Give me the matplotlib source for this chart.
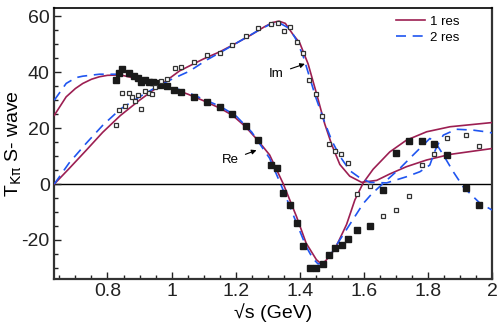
import matplotlib
matplotlib.use("Agg")
import matplotlib.pyplot as plt

# measured points, real part (filled squares)
re_x = [0.826, 0.835, 0.846, 0.866, 0.884, 0.895, 0.906, 0.918, 0.929, 0.941,
        0.952, 0.965, 0.987, 1.009, 1.030, 1.070, 1.110, 1.150, 1.190, 1.231,
        1.271, 1.309, 1.330, 1.349, 1.371, 1.390, 1.410, 1.431, 1.450, 1.471,
        1.492, 1.510, 1.531, 1.552, 1.580, 1.620, 1.660, 1.700, 1.741, 1.780,
        1.820, 1.860, 1.920, 1.959]
re_y = [37.2, 39.8, 41.0, 39.9, 38.7, 38.0, 36.5, 37.4, 36.6, 36.4,
        36.2, 35.6, 35.1, 33.8, 33.0, 31.2, 29.3, 27.6, 24.9, 20.8,
        15.8, 6.9, 5.8, -3.3, -7.6, -13.8, -22.1, -30.0, -30.2, -28.8,
        -25.5, -22.9, -21.8, -19.6, -16.5, -15.0, -2.0, 11.0, 15.5, 15.5,
        14.4, 10.5, -1.6, -7.6]

# measured points, imaginary part (open squares)
im_x = [0.826, 0.835, 0.846, 0.856, 0.866, 0.876, 0.886, 0.896, 0.906, 0.918,
        0.929, 0.938, 0.948, 0.966, 0.985, 1.010, 1.030, 1.070, 1.110, 1.150,
        1.190, 1.231, 1.271, 1.310, 1.331, 1.351, 1.371, 1.390, 1.410, 1.430,
        1.450, 1.470, 1.490, 1.510, 1.530, 1.551, 1.580, 1.620, 1.660, 1.700,
        1.741, 1.780, 1.820, 1.858, 1.920, 1.959]
im_y = [21.0, 26.4, 32.7, 27.9, 32.6, 31.0, 29.6, 31.9, 27.0, 33.3,
        32.4, 32.3, 34.6, 36.8, 37.5, 41.7, 41.8, 43.6, 46.1, 46.9,
        49.9, 53.0, 56.0, 57.2, 57.8, 54.9, 56.1, 50.8, 47.0, 37.4,
        32.1, 24.2, 14.5, 11.8, 10.9, 7.4, -3.6, -0.7, -11.5, -9.3,
        -4.4, 6.8, 10.6, 16.6, 17.4, 13.7]

# fit with 1 resonance
res1_re_x = [0.634, 0.671, 0.700, 0.723, 0.750, 0.775, 0.800, 0.827, 0.850, 0.900,
             0.950, 1.000, 1.050, 1.100, 1.150, 1.190, 1.230, 1.270, 1.306, 1.348,
             1.390, 1.420, 1.452, 1.465, 1.480, 1.500, 1.515, 1.546, 1.572, 1.598,
             1.629, 1.650, 1.681, 1.733, 1.796, 1.869, 2.000]
res1_re_y = [24.6, 31.2, 34.2, 36.0, 37.5, 38.4, 38.9, 39.0, 38.8, 37.5,
             36.0, 34.2, 32.2, 29.8, 27.2, 24.6, 20.6, 15.5, 10.4, 0.2,
             -11.7, -21.2, -27.1, -28.4, -27.6, -24.8, -22.0, -14.5, -5.7, 0.4,
             5.3, 7.8, 11.5, 15.7, 18.7, 20.5, 22.0]
res1_im_x = [0.634, 0.680, 0.733, 0.785, 0.840, 0.900, 0.960, 1.025, 1.100, 1.150,
             1.200, 1.250, 1.290, 1.315, 1.335, 1.355, 1.379, 1.400, 1.426, 1.452,
             1.478, 1.500, 1.525, 1.556, 1.593, 1.640, 1.681, 1.733, 1.796, 1.869,
             2.000]
res1_im_y = [0.0, 5.5, 12.0, 18.5, 24.5, 30.0, 35.0, 40.5, 44.8, 47.3,
             50.3, 53.5, 56.3, 57.8, 58.3, 57.5, 53.5, 50.5, 43.0, 32.5,
             21.5, 14.0, 7.0, 2.8, 0.6, 1.3, 3.6, 6.2, 8.6, 10.6,
             12.7]

# fit with 2 resonances
res2_re_x = [0.634, 0.671, 0.702, 0.723, 0.775, 0.827, 0.880, 0.950, 1.000, 1.050,
             1.100, 1.150, 1.200, 1.250, 1.306, 1.348, 1.390, 1.420, 1.440, 1.457,
             1.475, 1.490, 1.515, 1.556, 1.598, 1.624, 1.660, 1.7125, 1.754, 1.790,
             1.806, 1.822, 1.848, 1.879, 1.910, 1.9625, 2.000]
res2_re_y = [30.0, 36.0, 38.1, 38.6, 39.3, 39.3, 38.5, 36.5, 34.7, 32.8,
             30.3, 27.9, 24.5, 18.6, 9.2, -2.1, -14.0, -22.4, -26.5, -28.6,
             -28.3, -26.5, -21.8, -14.5, -7.0, -3.6, 0.2, 5.6, 10.4, 14.5,
             16.3, 15.1, 10.4, 4.4, -1.0, -6.9, -9.3]
res2_im_x = [0.634, 0.680, 0.733, 0.785, 0.840, 0.900, 0.960, 1.004, 1.056, 1.108,
             1.160, 1.2125, 1.265, 1.306, 1.3375, 1.369, 1.390, 1.410, 1.430, 1.450,
             1.478, 1.500, 1.525, 1.556, 1.5875, 1.619, 1.671, 1.733, 1.775, 1.806,
             1.817, 1.827, 1.848, 1.889, 1.940, 1.980, 2.000]
res2_im_y = [0.0, 7.5, 14.5, 21.0, 26.8, 31.2, 35.2, 37.7, 40.4, 44.3,
             47.6, 51.1, 54.6, 57.1, 57.6, 55.6, 51.4, 46.0, 38.5, 31.0,
             22.0, 15.5, 10.0, 4.8, 2.2, 0.6, 0.4, 2.6, 4.4, 6.8,
             10.4, 13.3, 17.5, 19.6, 19.3, 18.7, 18.3]

MAROON = "#9c1f52"
BLUE = "#1f55f0"


def main():
    plt.rcParams["font.family"] = ["Liberation Sans", "DejaVu Sans"]
    plt.rcParams["axes.unicode_minus"] = False

    fig = plt.figure(figsize=(4.98, 3.27), dpi=100)
    ax = fig.add_axes([0.1084, 0.1468, 0.8796, 0.8287])

    ax.axhline(0, color="black", lw=1.0, zorder=1)

    ax.plot(res1_re_x, res1_re_y, color=MAROON, lw=1.2, label="1 res", zorder=3)
    ax.plot(res1_im_x, res1_im_y, color=MAROON, lw=1.2, zorder=3)
    ax.plot(res2_re_x, res2_re_y, color=BLUE, lw=1.2, dashes=(6, 4),
            label="2 res", zorder=3)
    ax.plot(res2_im_x, res2_im_y, color=BLUE, lw=1.2, dashes=(6, 4), zorder=3)

    ax.plot(re_x, re_y, ls="none", marker="s", ms=3.7, color="#1a1a1a",
            mec="#1a1a1a", zorder=4)
    ax.plot(im_x, im_y, ls="none", marker="s", ms=3.4, mfc="white",
            mec="#333333", mew=0.9, zorder=4)

    ax.annotate("Im", xy=(1.416, 43.0), xytext=(1.327, 39.5),
                ha="center", va="center", fontsize=9.5,
                arrowprops=dict(arrowstyle="-|>", color="black", lw=0.8,
                                mutation_scale=7, shrinkA=3, shrinkB=0))
    ax.annotate("Re", xy=(1.265, 12.1), xytext=(1.183, 8.6),
                ha="center", va="center", fontsize=9.5,
                arrowprops=dict(arrowstyle="-|>", color="black", lw=0.8,
                                mutation_scale=7, shrinkA=3, shrinkB=0))

    ax.set_xlim(0.633, 2.0)
    ax.set_ylim(-34, 63)
    ax.set_xticks([0.8, 1.0, 1.2, 1.4, 1.6, 1.8, 2.0])
    ax.set_xticklabels(["0.8", "1", "1.2", "1.4", "1.6", "1.8", "2"])
    ax.set_xticks([0.65 + 0.05 * i for i in range(27)], minor=True)
    ax.set_yticks([-20, 0, 20, 40, 60])
    ax.set_yticks([-30 + 5 * i for i in range(19)], minor=True)
    ax.tick_params(which="both", direction="in", top=False, right=False,
                   labelsize=14, width=1.0, colors="#222222")
    ax.tick_params(which="major", length=5, pad=3)
    ax.tick_params(which="minor", length=3)
    for side in ["left", "bottom", "right"]:
        ax.spines[side].set_linewidth(1.6)
        ax.spines[side].set_color("#333333")
    ax.spines["top"].set_linewidth(1.2)

    ax.set_xlabel("\u221as (GeV)", fontsize=14, labelpad=2)
    ax.set_ylabel(r"T$_{\mathrm{K\pi}}$ S- wave", fontsize=14)
    ax.yaxis.set_label_coords(-0.068, 0.5)

    ax.legend(loc="upper left", bbox_to_anchor=(0.768, 0.992), frameon=False,
              fontsize=9.5, handlelength=2.2, handletextpad=0.4,
              labelspacing=0.3, borderaxespad=0)

    fig.savefig("out.png", dpi=100)
    plt.close(fig)


if __name__ == "__main__":
    main()
